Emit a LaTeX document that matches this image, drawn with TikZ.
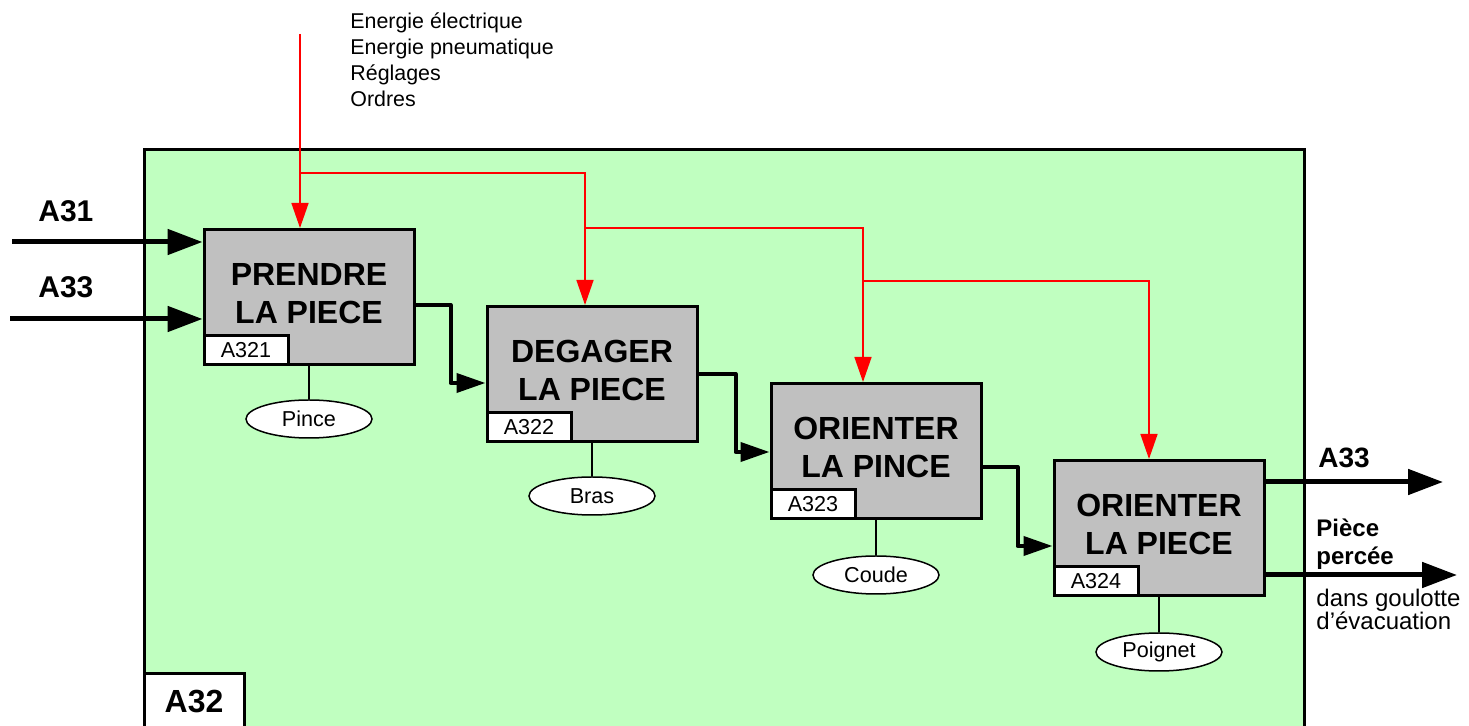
\documentclass[tikz,border=0pt]{standalone}
\usepackage{fontspec}
\setmainfont{Liberation Sans}
\usetikzlibrary{arrows.meta,shapes.geometric}
\definecolor{bggreen}{RGB}{192,255,192}
\definecolor{boxgray}{RGB}{192,192,192}
\tikzset{
  frame/.style={draw=black,line width=1.5pt},
  actbox/.style={draw=black,fill=boxgray,line width=1.5pt,minimum width=105pt,minimum height=67.5pt,
    align=center,font=\fontsize{16}{19}\selectfont\bfseries,inner sep=0pt,text depth=4pt},
  lblbox/.style={draw=black,fill=white,line width=1.5pt,minimum width=42pt,minimum height=14.5pt,
    inner sep=0pt,font=\fontsize{10.8}{12}\selectfont,anchor=south west},
  mech/.style={draw=black,fill=white,ellipse,line width=0.75pt,minimum width=63pt,minimum height=19pt,
    inner sep=0pt,font=\fontsize{10.8}{12}\selectfont},
  mechline/.style={draw=black,line width=0.75pt},
  bigarrow/.style={draw=black,line width=2.5pt,-{Triangle[length=17.5pt,width=12.5pt]}},
  flow/.style={draw=black,line width=2pt,line join=round,-{Triangle[length=14.5pt,width=9.5pt]}},
  ctrl/.style={draw=red,line width=0.75pt,-{Triangle[length=12.5pt,width=8.5pt]}},
  txt/.style={inner sep=0pt,anchor=base west},
}
\begin{document}
\begin{tikzpicture}[x=0.5pt,y=-0.5pt]
\useasboundingbox (0,0) rectangle (1469,726);
\clip (0,0) rectangle (1469,726);
% frame
\draw[frame,fill=bggreen] (144,150) rectangle (1304,760);
\draw[frame,fill=white] (144,674) rectangle (244,760);
\node[inner sep=0pt,anchor=base,font=\fontsize{16}{19}\selectfont\bfseries] (a32) at (194,713) {A32};
% activity boxes
\node[actbox] (b1) at (309,297) {PRENDRE\\LA PIECE};
\node[actbox] (b2) at (592,374) {DEGAGER\\LA PIECE};
\node[actbox] (b3) at (876,451) {ORIENTER\\LA PINCE};
\node[actbox] (b4) at (1159,528) {ORIENTER\\LA PIECE};
\node[lblbox] (l1) at (b1.south west) {A321};
\node[lblbox] (l2) at (b2.south west) {A322};
\node[lblbox] (l3) at (b3.south west) {A323};
\node[lblbox] (l4) at (b4.south west) {A324};
% mechanisms
\node[mech] (e1) at ([yshift=-26.5pt]b1.south) {Pince};
\node[mech] (e2) at ([yshift=-26.5pt]b2.south) {Bras};
\node[mech] (e3) at ([yshift=-27.5pt]b3.south) {Coude};
\node[mech] (e4) at ([yshift=-27.5pt]b4.south) {Poignet};
\draw[mechline] (b1.south) -- (e1.north);
\draw[mechline] (b2.south) -- (e2.north);
\draw[mechline] (b3.south) -- (e3.north);
\draw[mechline] (b4.south) -- (e4.north);
% flows between boxes
\draw[flow] ([yshift=-4pt]b1.east) -- ++(35,0) |- ([yshift=-4.5pt]b2.west);
\draw[flow] (b2.east) -- ++(37,0) |- ([yshift=-0.5pt]b3.west);
\draw[flow] ([yshift=-8pt]b3.east) -- ++(35,0) |- ([yshift=-9pt]b4.west);
% inputs
\coordinate (in1) at (12,242);
\coordinate (in2) at (10,319);
\draw[bigarrow] (in1) -- (in1 -| b1.west);
\draw[bigarrow] (in2) -- (in2 -| b1.west);
\node[txt,font=\fontsize{15}{18}\selectfont\bfseries] (ta31) at (38,222) {A31};
\node[txt,font=\fontsize{15}{18}\selectfont\bfseries] (ta33) at (38,298) {A33};
% outputs
\coordinate (o1) at (1443,482);
\coordinate (o2) at (1457,575);
\draw[bigarrow] (o1 -| b4.east) -- (o1);
\draw[bigarrow] (o2 -| b4.east) -- (o2);
\node[txt,font=\fontsize{14}{17}\selectfont\bfseries] (tb33) at (1318,468) {A33};
\node[txt,align=left,font=\fontsize{12}{14}\selectfont\bfseries] (tpp) at (1316,565) {Pièce\\percée};
\node[txt,align=left,font=\fontsize{12}{11.5}\selectfont] (tdg) at (1316,630) {dans goulotte\\d’évacuation};
% controls
\coordinate (rtop) at (300,34);
\coordinate (j1) at (300,173);
\coordinate (j2) at (585,228);
\coordinate (j3) at (863,281);
\draw[ctrl] (rtop) -- ([xshift=-4.5pt]b1.north);
\draw[ctrl] (j1) -| ([xshift=-3.5pt]b2.north);
\draw[ctrl] (j2) -| ([xshift=-6.5pt]b3.north);
\draw[ctrl] (j3) -| ([xshift=-5pt]b4.north);
\node[txt,align=left,font=\fontsize{10.7}{13}\selectfont] (tctl) at (350,107) {Energie électrique\\Energie pneumatique\\Réglages\\Ordres};
\end{tikzpicture}
\end{document}
